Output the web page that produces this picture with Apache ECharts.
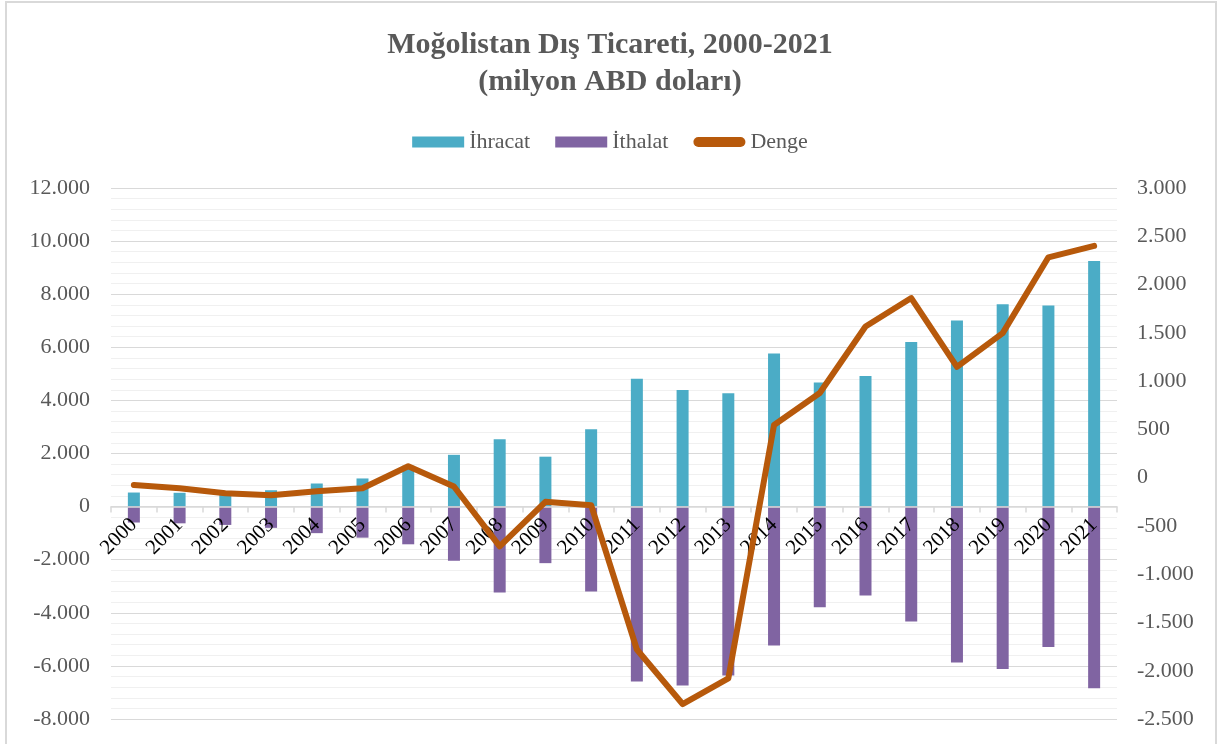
<!DOCTYPE html>
<html>
<head>
<meta charset="utf-8">
<script src="https://cdn.jsdelivr.net/npm/echarts@6/dist/echarts.min.js"></script>
<style>
html,body{margin:0;padding:0;background:#fff;}
#chart{width:1220px;height:744px;}
</style>
</head>
<body>
<div id="chart"></div>
<script>
var years = ['2000','2001','2002','2003','2004','2005','2006','2007','2008','2009','2010','2011','2012','2013','2014','2015','2016','2017','2018','2019','2020','2021'];
var ihracat = [530, 520, 530, 616, 870, 1060, 1540, 1950, 2540, 1880, 2910, 4820, 4390, 4270, 5770, 4670, 4920, 6200, 7010, 7620, 7570, 9250];
var ithalat = [-600, -630, -690, -800, -1000, -1170, -1420, -2040, -3240, -2130, -3200, -6590, -6740, -6360, -5230, -3790, -3350, -4330, -5870, -6120, -5290, -6840];
var denge = [-76, -110, -162, -182, -140, -110, 118, -92, -712, -250, -285, -1780, -2345, -2080, 545, 876, 1566, 1860, 1148, 1497, 2282, 2400];
var seriesNames = ['İhracat', 'İthalat', 'Denge'];
var leftMin = -8000, leftMax = 12000, leftStep = 2000;
var rightMin = -2500, rightMax = 3000, rightStep = 500;

function fmt(v) {
  var s = Math.abs(v).toString().replace(/\B(?=(\d{3})+(?!\d))/g, '.');
  return (v < 0 ? '-' : '') + s;
}

var FONT = "'Liberation Serif', 'Times New Roman', serif";
var H = 744, gridTop = 188, gridBottom = 25;
var plotH = H - gridTop - gridBottom;
// move the category axis up to the zero line of the left axis
var zeroOffset = -plotH * (0 - leftMin) / (leftMax - leftMin);

var chart = echarts.init(document.getElementById('chart'), null, {renderer: 'canvas'});
chart.setOption({
  backgroundColor: '#ffffff',
  animation: false,
  graphic: [{
    type: 'rect',
    shape: {x: 6, y: 2, width: 1210, height: 800},
    style: {fill: 'none', stroke: '#d9d9d9', lineWidth: 2},
    silent: true,
    z: -1
  }],
  title: {
    text: 'Moğolistan Dış Ticareti, 2000-2021\n(milyon ABD doları)',
    left: 'center',
    top: 22,
    textStyle: {
      fontFamily: FONT,
      fontSize: 30,
      fontWeight: 'bold',
      color: '#595959',
      lineHeight: 37
    }
  },
  legend: {
    top: 126,
    left: 'center',
    itemWidth: 52,
    itemHeight: 11,
    itemGap: 25,
    textStyle: {fontFamily: FONT, fontSize: 22, color: '#595959'},
    data: [
      {name: seriesNames[0], icon: 'rect'},
      {name: seriesNames[1], icon: 'rect'},
      {name: seriesNames[2], icon: 'path://M5,0 H47 A5,5 0 0 1 47,10 H5 A5,5 0 0 1 5,0 Z'}
    ]
  },
  grid: {left: 111, right: 103, top: gridTop, bottom: gridBottom, containLabel: false, outerBoundsMode: 'none'},
  xAxis: {
    type: 'category',
    data: years,
    position: 'bottom',
    offset: zeroOffset,
    z: 3,
    axisLine: {show: true, onZero: false, lineStyle: {color: '#d9d9d9', width: 1.5}},
    axisTick: {show: true, length: 6, lineStyle: {color: '#d9d9d9', width: 1.5}},
    axisLabel: {
      rotate: 45,
      margin: 15,
      interval: 0,
      fontFamily: FONT,
      fontSize: 21,
      color: '#000000'
    }
  },
  yAxis: [{
    type: 'value',
    min: leftMin,
    max: leftMax,
    interval: leftStep,
    axisLine: {show: false},
    axisTick: {show: false},
    axisLabel: {
      formatter: fmt,
      margin: 21,
      fontFamily: FONT,
      fontSize: 22,
      color: '#595959'
    },
    splitLine: {show: true, lineStyle: {color: '#d9d9d9', width: 1}},
    minorTick: {show: false, splitNumber: 5},
    minorSplitLine: {show: true, lineStyle: {color: '#f0f0f0', width: 1}}
  }, {
    type: 'value',
    min: rightMin,
    max: rightMax,
    interval: rightStep,
    position: 'right',
    axisLine: {show: false},
    axisTick: {show: false},
    axisLabel: {
      formatter: fmt,
      margin: 20,
      fontFamily: FONT,
      fontSize: 22,
      color: '#595959'
    },
    splitLine: {show: false}
  }],
  series: [{
    name: seriesNames[0],
    type: 'bar',
    yAxisIndex: 0,
    data: ihracat,
    barWidth: 12,
    barGap: '-100%',
    itemStyle: {color: '#4bacc6'}
  }, {
    name: seriesNames[1],
    type: 'bar',
    yAxisIndex: 0,
    data: ithalat,
    barWidth: 12,
    barGap: '-100%',
    itemStyle: {color: '#8064a2'}
  }, {
    name: seriesNames[2],
    type: 'line',
    yAxisIndex: 1,
    data: denge,
    symbol: 'none',
    lineStyle: {color: '#b7590b', width: 6, cap: 'round', join: 'round'},
    itemStyle: {color: '#b7590b'},
    z: 5
  }]
});
</script>
</body>
</html>
